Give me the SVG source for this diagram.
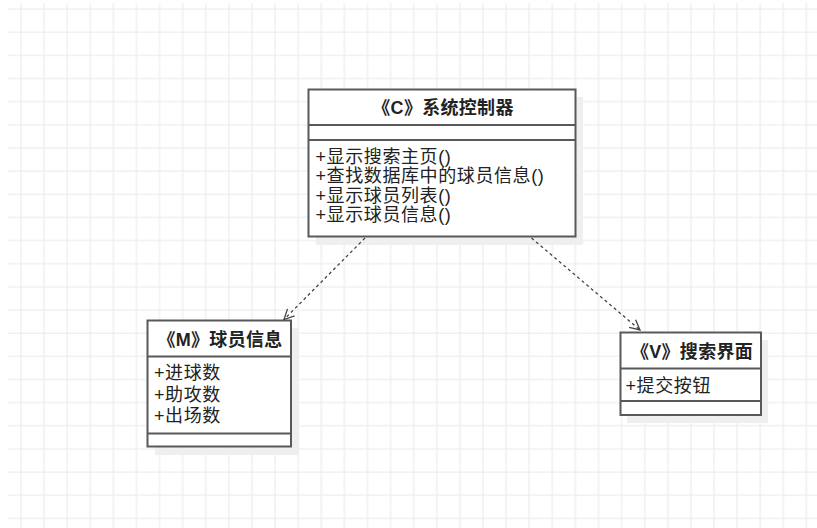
<svg xmlns="http://www.w3.org/2000/svg" width="817" height="528" viewBox="0 0 817 528">
<defs>
<pattern id="grid" patternUnits="userSpaceOnUse" x="20" y="8" width="23.1" height="23.15">
<path d="M1 0V23.15M0 1H23.1" stroke="#ededed" stroke-width="1.2" fill="none"/>
</pattern>
<marker id="open" viewBox="0 0 12 12" refX="11" refY="6" markerWidth="12" markerHeight="12" markerUnits="userSpaceOnUse" orient="auto">
<path d="M1 1L11 6L1 11" fill="none" stroke="#444" stroke-width="1.3"/>
</marker>
</defs>
<style>
.box{fill:#fff;stroke:#595959;stroke-width:2}
.shadow{fill:#efefef}
.sep{stroke:#595959;stroke-width:2}
.t{font-family:'Liberation Sans','Noto Sans CJK SC',sans-serif;font-size:18px;fill:#222;letter-spacing:0.6px}
.h{font-weight:bold;text-anchor:middle;letter-spacing:0.3px}
.dep{stroke:#444;stroke-width:1.3;stroke-dasharray:3 3;fill:none}
</style>
<rect x="0" y="0" width="817" height="528" fill="#fff"/>
<rect x="8" y="3" width="809" height="525" fill="url(#grid)"/>

<g id="node-controller">
<rect class="shadow" x="316" y="97" width="267" height="148"/>
<rect class="box" x="308.5" y="89.5" width="267" height="147"/>
<line class="sep" x1="308.5" y1="125" x2="575.5" y2="125"/>
<line class="sep" x1="308.5" y1="140" x2="575.5" y2="140"/>
<text class="t h" x="443" y="114">《C》系统控制器</text>
<text class="t" x="315.5" y="162.5">+显示搜索主页()</text>
<text class="t" x="315.5" y="182">+查找数据库中的球员信息()</text>
<text class="t" x="315.5" y="201.5">+显示球员列表()</text>
<text class="t" x="315.5" y="221">+显示球员信息()</text>
</g>

<g id="node-model">
<rect class="shadow" x="155" y="328" width="144" height="127"/>
<rect class="box" x="147.5" y="320.5" width="143.5" height="126"/>
<line class="sep" x1="147.5" y1="356.5" x2="291" y2="356.5"/>
<line class="sep" x1="147.5" y1="433.5" x2="291" y2="433.5"/>
<text class="t h" x="220" y="346">《M》球员信息</text>
<text class="t" x="154" y="379">+进球数</text>
<text class="t" x="154" y="400.5">+助攻数</text>
<text class="t" x="154" y="422">+出场数</text>
</g>

<g id="node-view">
<rect class="shadow" x="627" y="340" width="141" height="83"/>
<rect class="box" x="620.5" y="332.5" width="140.5" height="82.5"/>
<line class="sep" x1="620.5" y1="368.5" x2="761" y2="368.5"/>
<line class="sep" x1="620.5" y1="401" x2="761" y2="401"/>
<text class="t h" x="692" y="358">《V》搜索界面</text>
<text class="t" x="625.5" y="391.5">+提交按钮</text>
</g>

<g id="connectors">
<line class="dep" x1="365" y1="238" x2="284" y2="319.5" marker-end="url(#open)"/>
<line class="dep" x1="531.5" y1="238" x2="640" y2="330" marker-end="url(#open)"/>
</g>
</svg>
